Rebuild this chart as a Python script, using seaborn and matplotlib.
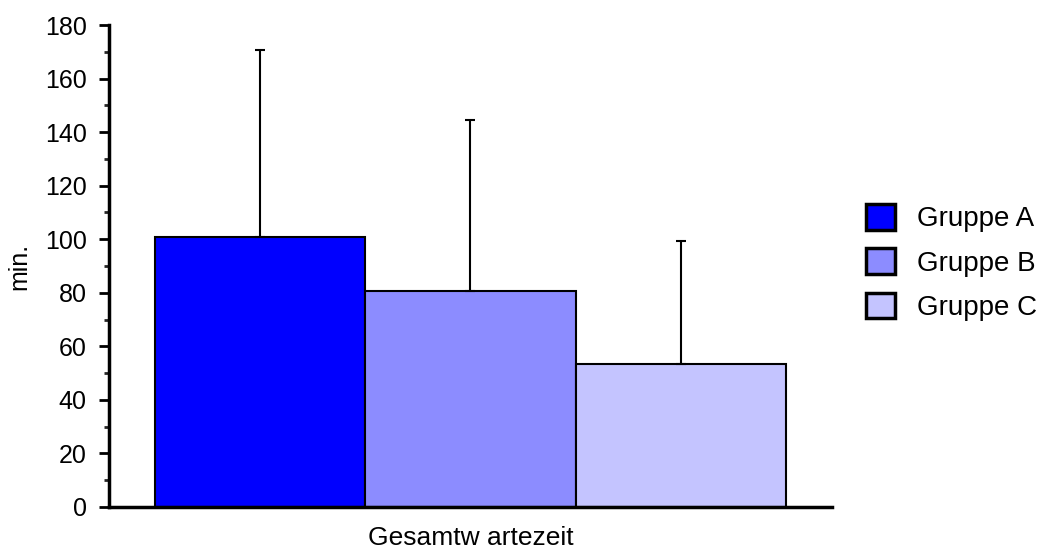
import matplotlib
matplotlib.use("Agg")
import matplotlib.pyplot as plt
import seaborn as sns
import pandas as pd
from matplotlib.patches import Patch

categories = ["Gesamtw artezeit"]
groups = ["Gruppe A", "Gruppe B", "Gruppe C"]
means = [101, 80.5, 53.5]
errors = [69.5, 64, 45.8]
colors = ["#0000FF", "#8C8CFF", "#C4C4FF"]

sns.set_theme(style="white")
plt.rcParams["font.family"] = ["Liberation Sans", "DejaVu Sans"]

df = pd.DataFrame({"cat": categories * len(groups), "group": groups, "val": means})

fig = plt.figure(figsize=(10.38, 5.51), dpi=100)
ax = fig.add_axes([0.105, 0.0799, 0.6965, 0.8747])

sns.barplot(data=df, x="cat", y="val", hue="group", hue_order=groups,
            palette=colors, saturation=1, width=0.8, gap=0, errorbar=None,
            edgecolor="black", linewidth=1.5, ax=ax, legend=False)

bars = ax.patches[:len(groups)]
xs = [b.get_x() + b.get_width() / 2 for b in bars]
ax.errorbar(xs, means, yerr=[[0] * len(errors), errors], fmt="none",
            ecolor="black", elinewidth=1.5, capsize=3.5, capthick=1.5, zorder=1)

ax.set_xlim(-0.458, 0.458)
ax.set_ylim(0, 180)
ax.set_yticks(range(0, 181, 20))
ax.set_yticks(range(10, 180, 20), minor=True)
ax.tick_params(axis="y", which="major", direction="out", length=7, width=2,
               labelsize=18, left=True, pad=9, colors="black")
ax.tick_params(axis="y", which="minor", direction="out", length=3.5, width=2, left=True)
ax.tick_params(axis="x", length=0, labelsize=19, pad=14, colors="black")
ax.set_xlabel("")
ax.set_ylabel("min.", fontsize=18, labelpad=10, color="black")

for s in ["top", "right"]:
    ax.spines[s].set_visible(False)
for s in ["left", "bottom"]:
    ax.spines[s].set_color("black")
    ax.spines[s].set_linewidth(2.5)

handles = [Patch(facecolor=c, edgecolor="black", linewidth=2.5) for c in colors]
fig.legend(handles, groups, loc="center left", bbox_to_anchor=(0.834, 0.5236),
           frameon=False, fontsize=20, labelcolor="black", handlelength=1.04,
           handleheight=1.04, labelspacing=0.58, handletextpad=0.8,
           borderpad=0, borderaxespad=0)

fig.savefig("out.png", dpi=100)
